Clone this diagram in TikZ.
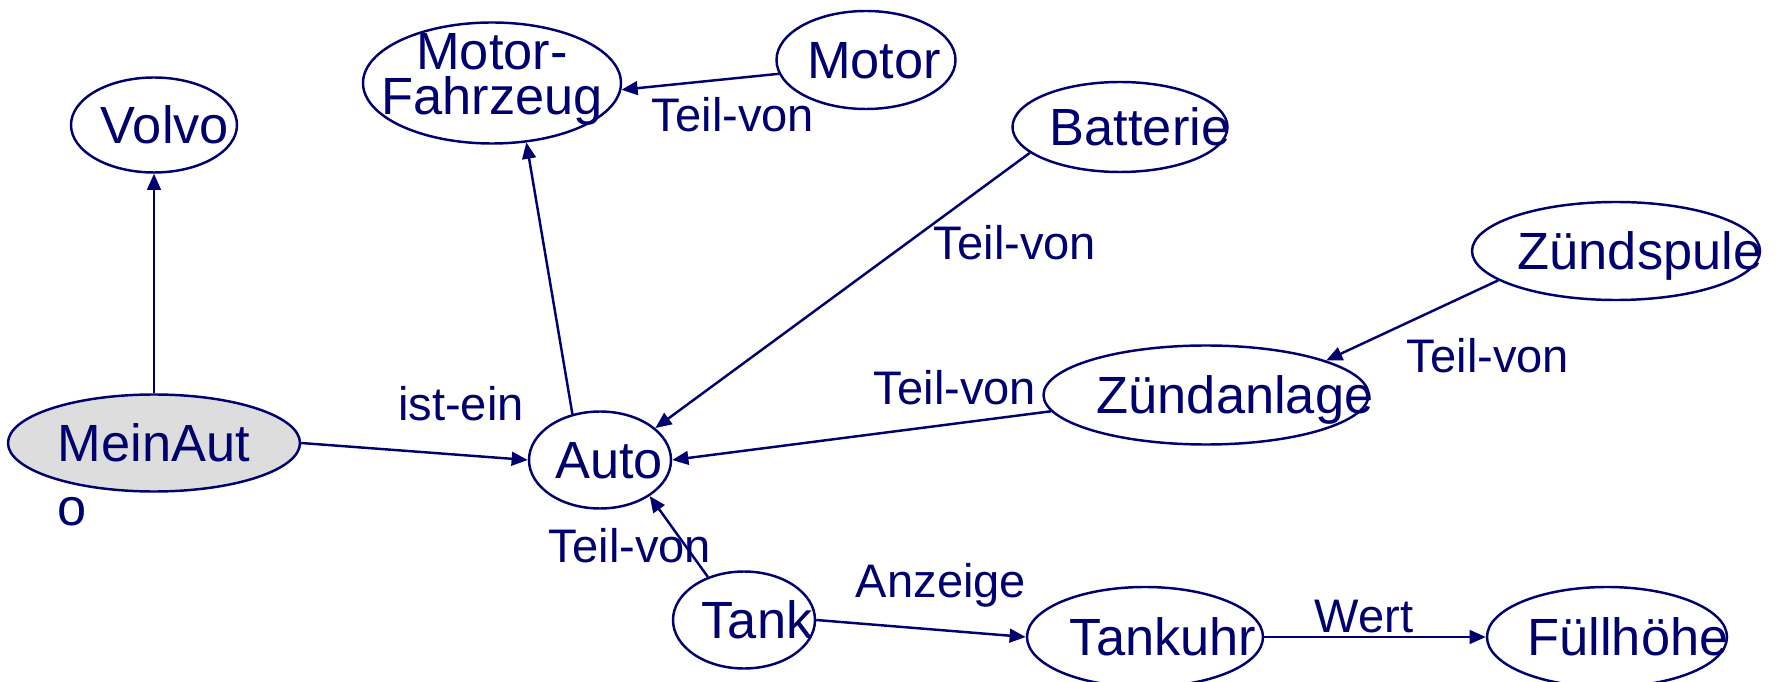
\documentclass[tikz,border=0pt]{standalone}
\usepackage{fontspec}
\setmainfont{Liberation Sans}
\usetikzlibrary{shapes.geometric,arrows.meta}
\definecolor{navy}{RGB}{0,0,110}
\definecolor{lgray}{RGB}{221,221,221}
\newcommand{\tx}[2]{\makebox[0pt]{\hspace*{#1}#2\hspace*{-#1}}}

\begin{document}
\begin{tikzpicture}[
  ent/.style={ellipse,draw=navy,line width=0.7pt,inner sep=0pt,text=navy,
    font=\fontsize{14.9pt}{18pt}\selectfont,text height=10.7pt,text depth=0pt},
  lab/.style={text=navy,inner sep=0pt,font=\fontsize{13.4pt}{16pt}\selectfont,
    text height=9.6pt,text depth=0pt},
  arr/.style={draw=navy,line width=0.7pt,-{Triangle[length=4.6pt,width=3.9pt]}}]
\useasboundingbox (0,0) rectangle (17.78,6.81);

\node[ent,minimum width=1.66cm,minimum height=0.95cm] (volvo) at (1.54,5.56) {\tx{0.11cm}{Volvo}};
\node[ent,fill=lgray,minimum width=2.92cm,minimum height=0.97cm] (meinauto) at (1.54,2.38)
  {\makebox[0pt]{\vtop{\hbox{MeinAut}\hbox{o}}}};
\node[ent,minimum width=2.58cm,minimum height=1.21cm,text height=0pt,text depth=7.8pt] (mfz) at (4.92,5.98)
  {\vtop{\baselineskip=12.9pt\hbox to 0pt{\hss Motor-\hss}\hbox to 0pt{\hss Fahrzeug\hss}}};
\node[ent,minimum width=1.79cm,minimum height=0.98cm] (motor) at (8.66,6.21) {\tx{0.08cm}{Motor}};
\node[ent,minimum width=2.15cm,minimum height=0.90cm] (batterie) at (11.20,5.54) {\tx{0.2cm}{Batterie}};
\node[ent,minimum width=2.88cm,minimum height=0.98cm] (zspule) at (16.16,4.30) {\tx{0.24cm}{Zündspule}};
\node[ent,minimum width=3.25cm,minimum height=0.99cm] (zanlage) at (12.06,2.86) {\tx{0.29cm}{Zündanlage}};
\node[ent,minimum width=1.42cm,minimum height=0.97cm] (auto) at (6.00,2.21) {\tx{0.09cm}{Auto}};
\node[ent,minimum width=1.42cm,minimum height=0.97cm] (tank) at (7.44,0.61) {\tx{0.13cm}{Tank}};
\node[ent,minimum width=2.36cm,minimum height=1.00cm] (tankuhr) at (11.45,0.44) {\tx{0.18cm}{Tankuhr}};
\node[ent,minimum width=2.40cm,minimum height=1.00cm] (fuell) at (16.07,0.44) {\tx{0.21cm}{Füllhöhe}};

\draw[arr] (meinauto) -- (volvo);
\draw[arr] (meinauto.east) -- (auto.west);
\draw[arr] (auto.121) -- (mfz.300);
\draw[arr] (motor.189) -- (mfz.357);
\draw[arr] (batterie.196) -- (auto.30);
\draw[arr] (zanlage.186) -- (auto.east);
\draw[arr] (zspule.194) -- (zanlage.16);
\draw[arr] (tank.130) -- (auto.324);
\draw[arr] (tank.east) -- (tankuhr.west);
\draw[arr] (tankuhr.east) -- (fuell.west);

\node[lab] (l-istein) at (4.61,2.77) {ist-ein};
\node[lab] (l-motor) at (7.33,5.66) {Teil-von};
\node[lab] (l-batterie) at (10.15,4.38) {Teil-von};
\node[lab] (l-zanlage) at (9.55,2.93) {Teil-von};
\node[lab] (l-zspule) at (14.88,3.25) {Teil-von};
\node[lab] (l-tank) at (6.30,1.35) {Teil-von};
\node[lab] (l-anzeige) at (9.41,1.00) {Anzeige};
\node[lab] (l-wert) at (13.64,0.65) {Wert};
\end{tikzpicture}
\end{document}
